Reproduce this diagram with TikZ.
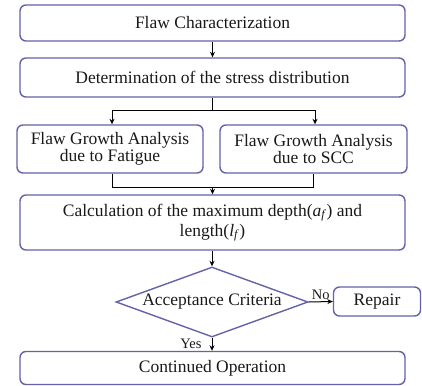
\documentclass[tikz,border=0pt]{standalone}
\usepackage{fontspec}
\setmainfont{Liberation Serif}
\usetikzlibrary{shapes.geometric,arrows.meta}
\definecolor{edgecol}{RGB}{100,98,168}
\definecolor{txtcol}{RGB}{25,25,25}
\begin{document}
\begin{tikzpicture}[x=1pt,y=-1pt,
  box/.style={draw=edgecol, line width=1.4pt, rounded corners=6pt, inner sep=0pt, align=center, text=txtcol, font=\fontsize{17.5}{17.5}\selectfont},
  conn/.style={line width=1pt, black},
  arr/.style={conn, -{Stealth[length=5.5pt,width=5pt]}},
  lbl/.style={font=\fontsize{14.5}{14.5}\selectfont, text=txtcol, inner sep=0pt}]
\useasboundingbox (0,0) rectangle (422,385);
\node[box, minimum width=385pt, minimum height=36pt] (b1) at (212.5,23) {Flaw Characterization};
\node[box, minimum width=385pt, minimum height=39pt] (b2) at (212.5,77.5) {Determination of the stress distribution};
\node[box, minimum width=186pt, minimum height=48pt] (fat) at (110,149) {Flaw Growth Analysis\\due to Fatigue};
\node[box, minimum width=187pt, minimum height=48pt] (scc) at (313.5,149) {Flaw Growth Analysis\\due to SCC};
\node[box, minimum width=385pt, minimum height=55pt, font=\fontsize{17.5}{20}\selectfont] (calc) at (212.5,222.5) {Calculation of the maximum depth(\textit{a}\textsubscript{\textit{f}}) and\\length(\textit{l}\textsubscript{\textit{f}})};
\node[draw=edgecol, line width=1.4pt, diamond, shape aspect=2.74, inner sep=0pt, minimum width=192pt, minimum height=70pt, text=txtcol, font=\fontsize{17.5}{17.5}\selectfont] (acc) at (212,302) {Acceptance Criteria};
\node[box, minimum width=87pt, minimum height=29pt] (rep) at (377,301.5) {Repair};
\node[box, minimum width=385pt, minimum height=33pt] (cont) at (212.5,368) {Continued Operation};

\coordinate (split) at (212.5,110);
\coordinate (sl) at (112,110);
\coordinate (sr) at (315,110);
\coordinate (jl) at (112,187);
\coordinate (jr) at (313,187);
\coordinate (join) at (212.5,187);

\draw[arr] (b1.south) -- (b2.north);
\draw[conn] (b2.south) -- (split);
\draw[conn] (sl) -- (sr);
\draw[arr] (sl) -- (sl |- fat.north);
\draw[arr] (sr) -- (sr |- scc.north);
\draw[conn] (fat.south -| jl) -- (jl) -- (jr) -- (scc.south -| jr);
\draw[arr] (join) -- (calc.north);
\draw[arr] (calc.south -| acc.north) -- (acc.north);
\draw[arr] (acc.east) -- (rep.west) node[lbl, midway, above=1.5pt] {No};
\draw[arr] (acc.south) -- (acc.south |- cont.north) node[lbl, midway, left=10pt] {Yes};
\end{tikzpicture}
\end{document}
